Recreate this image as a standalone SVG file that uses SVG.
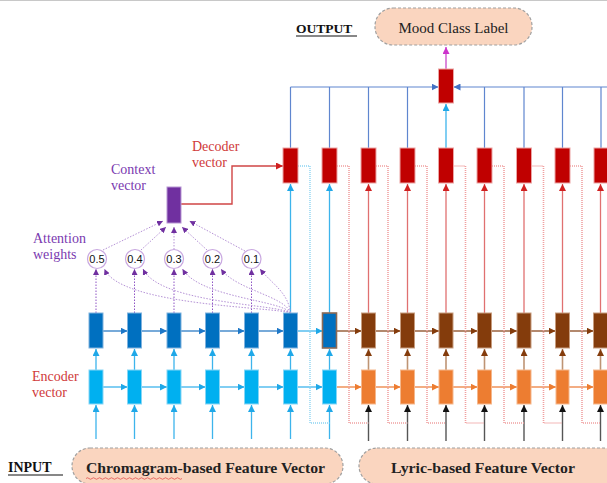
<svg xmlns="http://www.w3.org/2000/svg" width="607" height="483" viewBox="0 0 607 483">
<style>
.t{font-family:"Liberation Serif","Times New Roman",serif}
.red{fill:#D03A3A}
.pur{fill:#7A3AB0}
.dec{fill:#C00000;stroke:#EBA4A4;stroke-width:1}
.enc{fill:#0070C0;stroke:#7FB2DE;stroke-width:1}
.inp{fill:#00B0F0;stroke:#86D6F6;stroke-width:1}
.brn{fill:#843C0C;stroke:#C79C7E;stroke-width:1}
.org{fill:#ED7D31;stroke:#F5B78C;stroke-width:1}
.pill{fill:#FAD5BF;stroke:#A0A0A0;stroke-width:1.2;stroke-dasharray:3 2}
.circ{fill:#fff;stroke:#C9A8E0;stroke-width:1.2}
.num{font-family:"Liberation Sans",Arial,sans-serif;font-size:11px;fill:#111;text-anchor:middle}
#connectors path{fill:none}
.cy{stroke:#3DB4EC;stroke-width:1.3;marker-end:url(#mCy)}
.gy{stroke:#555;stroke-width:1.4;marker-end:url(#mGy)}
.bl{stroke:#2E7CC4;stroke-width:1.3;marker-end:url(#mBl)}
.br{stroke:#8A4A20;stroke-width:1.3;marker-end:url(#mBr)}
.tan{stroke:#BE9474;stroke-width:1.6;marker-end:url(#mBr)}
.or{stroke:#ED8040;stroke-width:1.3;marker-end:url(#mOr)}
.rd{stroke:#E07070;stroke-width:1.3;marker-end:url(#mRd)}
.top{stroke:#5F86CF;stroke-width:1.2}
.fbc{stroke:#8CD4F2;stroke-width:1.4;stroke-dasharray:1 1}
.fbp{stroke:#F0A0A0;stroke-width:1.6;stroke-dasharray:1 1}
.att{stroke:#8E55C4;stroke-width:1;stroke-dasharray:1.5 1.5;marker-end:url(#mPu)}
.attl{stroke:#B592D6;stroke-width:1;stroke-dasharray:1.5 1.5;marker-end:url(#mPu)}
</style>
<defs>
<marker id="mCy" viewBox="0 0 10 10" refX="10" refY="5" markerWidth="7" markerHeight="7" markerUnits="userSpaceOnUse" orient="auto"><path d="M0,0L10,5L0,10z" fill="#1FA8E8"/></marker>
<marker id="mBl" viewBox="0 0 10 10" refX="10" refY="5" markerWidth="7" markerHeight="7" markerUnits="userSpaceOnUse" orient="auto"><path d="M0,0L10,5L0,10z" fill="#1E78C8"/></marker>
<marker id="mBr" viewBox="0 0 10 10" refX="10" refY="5" markerWidth="7" markerHeight="7" markerUnits="userSpaceOnUse" orient="auto"><path d="M0,0L10,5L0,10z" fill="#843C0C"/></marker>
<marker id="mOr" viewBox="0 0 10 10" refX="10" refY="5" markerWidth="7" markerHeight="7" markerUnits="userSpaceOnUse" orient="auto"><path d="M0,0L10,5L0,10z" fill="#ED7D31"/></marker>
<marker id="mGy" viewBox="0 0 10 10" refX="10" refY="5" markerWidth="7" markerHeight="7" markerUnits="userSpaceOnUse" orient="auto"><path d="M0,0L10,5L0,10z" fill="#111"/></marker>
<marker id="mRd" viewBox="0 0 10 10" refX="10" refY="5" markerWidth="7" markerHeight="7" markerUnits="userSpaceOnUse" orient="auto"><path d="M0,0L10,5L0,10z" fill="#D02020"/></marker>
<marker id="mTop" viewBox="0 0 10 10" refX="10" refY="5" markerWidth="7" markerHeight="7" markerUnits="userSpaceOnUse" orient="auto"><path d="M0,0L10,5L0,10z" fill="#4472C4"/></marker>
<marker id="mMg" viewBox="0 0 10 10" refX="10" refY="5" markerWidth="7" markerHeight="7" markerUnits="userSpaceOnUse" orient="auto"><path d="M0,0L10,5L0,10z" fill="#CC33CC"/></marker>
<marker id="mPu" viewBox="0 0 10 10" refX="10" refY="5" markerWidth="6" markerHeight="6" markerUnits="userSpaceOnUse" orient="auto"><path d="M0,0L10,5L0,10z" fill="#7030A0"/></marker>
</defs>
<rect width="607" height="483" fill="#fff"/>
<line x1="0" y1="0.5" x2="607" y2="0.5" stroke="#C8C8C8"/>

<g id="connectors">
<!-- inputs -->
<path class="cy" d="M96,439V405"/><path class="cy" d="M134.5,439V405"/><path class="cy" d="M174,439V405"/><path class="cy" d="M212.5,439V405"/><path class="cy" d="M251.5,439V405"/><path class="cy" d="M290.5,439V405"/><path class="cy" d="M329.5,439V405"/>
<path class="gy" d="M368.5,441V405"/><path class="gy" d="M407.5,441V405"/><path class="gy" d="M446,441V405"/><path class="gy" d="M484.5,441V405"/><path class="gy" d="M524,441V405"/><path class="gy" d="M562.5,441V405"/><path class="gy" d="M600.5,441V405"/>
<!-- bottom to top row -->
<path class="cy" d="M96,370V349"/><path class="cy" d="M134.5,370V349"/><path class="cy" d="M174,370V349"/><path class="cy" d="M212.5,370V349"/><path class="cy" d="M251.5,370V349"/><path class="cy" d="M290.5,370V349"/><path class="cy" d="M329.5,370V349"/>
<path class="tan" d="M368.5,370V349"/><path class="tan" d="M407.5,370V349"/><path class="tan" d="M446,370V349"/><path class="tan" d="M484.5,370V349"/><path class="tan" d="M524,370V349"/><path class="tan" d="M562.5,370V349"/><path class="tan" d="M600.5,370V349"/>
<!-- top row horizontals -->
<path class="bl" d="M103,331H127.5"/><path class="bl" d="M141.5,331H167"/><path class="bl" d="M181,331H205.5"/><path class="bl" d="M219.5,331H244.5"/><path class="bl" d="M258.5,331H283.5"/><path class="cy" d="M297.5,331H322.5"/>
<path class="br" d="M336.5,331H361.5"/><path class="br" d="M375.5,331H400.5"/><path class="br" d="M414.5,331H439"/><path class="br" d="M453,331H477.5"/><path class="br" d="M491.5,331H517"/><path class="br" d="M531,331H555.5"/><path class="br" d="M569.5,331H593.5"/>
<!-- bottom row horizontals -->
<path class="cy" d="M103,387H127.5"/><path class="cy" d="M141.5,387H167"/><path class="cy" d="M181,387H205.5"/><path class="cy" d="M219.5,387H244.5"/><path class="cy" d="M258.5,387H283.5"/><path class="cy" d="M297.5,387H322.5"/>
<path class="or" d="M336.5,387H361.5"/><path class="or" d="M375.5,387H400.5"/><path class="or" d="M414.5,387H439"/><path class="or" d="M453,387H477.5"/><path class="or" d="M491.5,387H517"/><path class="or" d="M531,387H556"/><path class="or" d="M569,387H593.5"/>
<!-- to decoders -->
<path class="cy" d="M290.5,313V184"/><path class="cy" d="M329.5,313V184"/>
<path class="rd" d="M368.5,313V184"/><path class="rd" d="M407.5,313V184"/><path class="rd" d="M446,313V184"/><path class="rd" d="M484.5,313V184"/><path class="rd" d="M524,313V184"/><path class="rd" d="M562.5,313V184"/><path class="rd" d="M600.5,313V184"/>
<!-- feedback loops -->
<path class="fbc" d="M298,166H310V423H329.5"/>
<path class="fbp" d="M337,166H349V423H368.5"/><path class="fbp" d="M376,166H388V423H407.5"/><path class="fbp" d="M415,166H427V423H446"/><path class="fbp" d="M453.5,166H465.5V423H484.5"/><path class="fbp" d="M492,166H504V423H524"/><path class="fbp" d="M531.5,166H543.5V423H562.5"/><path class="fbp" d="M570,166H582V423H600.5"/>
<!-- decoders to output -->
<path class="top" d="M290.5,148V87M329.5,148V87M368.5,148V87M407.5,148V87M484.5,148V87M524,148V87M562.5,148V87M601,148V87"/>
<path class="top" marker-end="url(#mTop)" d="M290.5,87H438.5"/>
<path class="top" marker-end="url(#mTop)" d="M607,87H453.5"/>
<path class="cy" d="M446,148V104"/>
<path stroke="#D060D0" stroke-width="1.5" marker-end="url(#mMg)" d="M446,69V47"/>
<!-- context to decoder -->
<path stroke="#D04545" stroke-width="1.4" marker-end="url(#mRd)" d="M181,204H232V166H283"/>
<!-- attention -->
<path class="att" d="M96,313V269"/><path class="att" d="M134.5,313V269"/><path class="att" d="M174,313V269"/><path class="att" d="M212.5,313V269"/><path class="att" d="M251.5,313V269"/>
<path class="attl" d="M290.5,313C288,292 272,284 260,269"/>
<path class="attl" d="M290.5,313C285,296 236,290 221,269"/>
<path class="attl" d="M290.5,313C282,300 200,298 182.5,269"/>
<path class="attl" d="M290.5,313C279,304 160,304 143,269"/>
<path class="attl" d="M290.5,313C276,307 120,306 104.5,269"/>
<path class="attl" d="M103,250L163,221"/>
<path class="attl" d="M141,250L166,227"/>
<path class="attl" d="M174,249.5V227"/>
<path class="attl" d="M207,250L182,227"/>
<path class="attl" d="M245,251L189.5,221"/>
</g>

<g id="encoder-chroma">
<rect class="enc" x="89" y="313" width="14" height="35"/>
<rect class="enc" x="127.5" y="313" width="14" height="35"/>
<rect class="enc" x="167" y="313" width="14" height="35"/>
<rect class="enc" x="205.5" y="313" width="14" height="35"/>
<rect class="enc" x="244.5" y="313" width="14" height="35"/>
<rect class="enc" x="283.5" y="313" width="14" height="35"/>
<rect x="322.5" y="313" width="14" height="35" fill="#0070C0" stroke="#8C6A55" stroke-width="1.6"/>
<rect class="inp" x="89" y="370" width="14" height="34"/>
<rect class="inp" x="127.5" y="370" width="14" height="34"/>
<rect class="inp" x="167" y="370" width="14" height="34"/>
<rect class="inp" x="205.5" y="370" width="14" height="34"/>
<rect class="inp" x="244.5" y="370" width="14" height="34"/>
<rect class="inp" x="283.5" y="370" width="14" height="34"/>
<rect class="inp" x="322.5" y="370" width="14" height="34"/>
</g>

<g id="encoder-lyric">
<rect class="brn" x="361.5" y="313" width="14" height="35"/>
<rect class="brn" x="400.5" y="313" width="14" height="35"/>
<rect class="brn" x="439" y="313" width="14" height="35"/>
<rect class="brn" x="477.5" y="313" width="14" height="35"/>
<rect class="brn" x="517" y="313" width="14" height="35"/>
<rect class="brn" x="555.5" y="313" width="14" height="35"/>
<rect class="brn" x="593.5" y="313" width="14" height="35"/>
<rect class="org" x="361.5" y="370" width="14" height="34"/>
<rect class="org" x="400.5" y="370" width="14" height="34"/>
<rect class="org" x="439" y="370" width="14" height="34"/>
<rect class="org" x="477.5" y="370" width="14" height="34"/>
<rect class="org" x="517" y="370" width="14" height="34"/>
<rect class="org" x="556" y="370" width="13" height="34"/>
<rect class="org" x="593.5" y="370" width="14" height="34"/>
</g>

<g id="decoders">
<rect class="dec" x="283" y="148" width="15" height="35"/>
<rect class="dec" x="322" y="148" width="15" height="35"/>
<rect class="dec" x="361" y="148" width="15" height="35"/>
<rect class="dec" x="400" y="148" width="15" height="35"/>
<rect class="dec" x="438.5" y="148" width="15" height="35"/>
<rect class="dec" x="477" y="148" width="15" height="35"/>
<rect class="dec" x="516.5" y="148" width="15" height="35"/>
<rect class="dec" x="555" y="148" width="15" height="35"/>
<rect class="dec" x="594" y="148" width="15" height="35"/>
</g>

<g id="output-node">
<rect class="dec" x="438.5" y="69" width="15" height="34"/>
</g>

<g id="mood-label">
<rect class="pill" x="375" y="8" width="157" height="37" rx="18"/>
<text class="t" x="453.5" y="33" font-size="15" text-anchor="middle" fill="#222">Mood Class Label</text>
</g>

<g id="output-title">
<text class="t" x="296" y="33" font-size="13.5" font-weight="bold" fill="#111">OUTPUT</text>
<line x1="296" y1="36" x2="357" y2="36" stroke="#111" stroke-width="1.2"/>
</g>

<g id="context">
<rect x="167" y="187" width="14" height="36" fill="#7030A0" stroke="#B795D3" stroke-width="1"/>
<text class="t pur" x="111" y="174" font-size="14">Context</text>
<text class="t pur" x="111" y="190" font-size="14">vector</text>
</g>

<g id="decoder-label">
<text class="t red" x="192" y="151" font-size="14">Decoder</text>
<text class="t red" x="192" y="167" font-size="14">vector</text>
</g>

<g id="attention">
<text class="t pur" x="33" y="243" font-size="14">Attention</text>
<text class="t pur" x="33" y="259" font-size="14">weights</text>
<circle class="circ" cx="97" cy="259" r="9.5"/>
<circle class="circ" cx="135" cy="259" r="9.5"/>
<circle class="circ" cx="174" cy="259" r="9.5"/>
<circle class="circ" cx="212.5" cy="259" r="9.5"/>
<circle class="circ" cx="251.5" cy="259" r="9.5"/>
<text class="num" x="97" y="263">0.5</text>
<text class="num" x="135" y="263">0.4</text>
<text class="num" x="174" y="263">0.3</text>
<text class="num" x="212.5" y="263">0.2</text>
<text class="num" x="251.5" y="263">0.1</text>
</g>

<g id="encoder-label">
<text class="t red" x="32" y="381" font-size="14">Encoder</text>
<text class="t red" x="32" y="397" font-size="14">vector</text>
</g>

<g id="input-title">
<text class="t" x="8" y="472" font-size="14" font-weight="bold" fill="#111">INPUT</text>
<line x1="8" y1="475" x2="63" y2="475" stroke="#111" stroke-width="1.2"/>
</g>

<g id="chroma-input">
<rect class="pill" x="72" y="448" width="271" height="36" rx="18"/>
<text class="t" x="86" y="473" font-size="15" font-weight="bold" fill="#222" textLength="239" lengthAdjust="spacingAndGlyphs">Chromagram-based Feature Vector</text>
<path d="M86,478.5q1.5,-1.5 3,0t3,0t3,0t3,0t3,0t3,0t3,0t3,0t3,0t3,0t3,0t3,0t3,0t3,0t3,0t3,0t3,0t3,0t3,0t3,0t3,0t3,0t3,0t3,0t3,0t3,0t3,0t3,0t3,0t3,0t3,0t3,0" fill="none" stroke="#E04040" stroke-width="0.7"/>
</g>

<g id="lyric-input">
<rect class="pill" x="359" y="448" width="262" height="36" rx="18"/>
<text class="t" x="391" y="473" font-size="15" font-weight="bold" fill="#222" textLength="184" lengthAdjust="spacingAndGlyphs">Lyric-based Feature Vector</text>
</g>
</svg>
